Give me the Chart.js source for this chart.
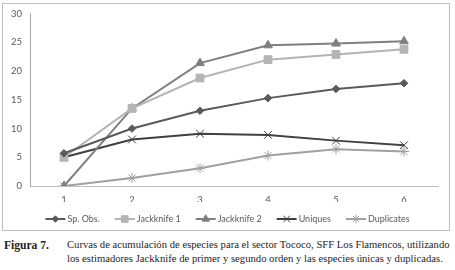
<!DOCTYPE html>
<html>
<head>
<meta charset="utf-8">
<script src="https://cdn.jsdelivr.net/npm/chart.js@4/dist/chart.umd.min.js"></script>
<style>
  html, body { margin: 0; padding: 0; background: #fff; }
  body { width: 455px; height: 270px; position: relative; overflow: hidden; }
  #frame { position: absolute; left: 2px; top: 3px; width: 448px; height: 228px; border: 1px solid #bfbfbf; box-sizing: border-box; }
  #wrap { position: absolute; left: 0; top: 0; width: 455px; height: 232px; }
  .cap { position: absolute; font-family: "Liberation Serif", "DejaVu Serif", serif; color: #1e1e1e; white-space: nowrap; }
  #fig { left: 4px; top: 239px; font-weight: bold; font-size: 12px; }
  #l1 { left: 67px; top: 239px; }
  #l2 { left: 67px; top: 253px; }
</style>
</head>
<body>
<div id="frame"></div>
<div id="wrap"><canvas id="c" width="455" height="232"></canvas></div>
<div class="cap" id="fig">Figura 7.</div>
<div class="cap" id="l1">Curvas de acumulación de especies para el sector Tococo, SFF Los Flamencos, utilizando</div>
<div class="cap" id="l2">los estimadores Jackknife de primer y segundo orden y las especies únicas y duplicadas.</div>
<script>
const categories = ['1', '2', '3', '4', '5', '6'];
const seriesNames = ['Sp. Obs.', 'Jackknife 1', 'Jackknife 2', 'Uniques', 'Duplicates'];
const spObs = [5.7, 10.0, 13.1, 15.3, 16.9, 17.9];
const jackknife1 = [5.0, 13.5, 18.8, 22.0, 22.9, 23.8];
const jackknife2 = [0.0, 13.5, 21.4, 24.5, 24.8, 25.2];
const uniques = [5.0, 8.1, 9.1, 8.9, 7.9, 7.1];
const duplicates = [0.0, 1.4, 3.1, 5.3, 6.4, 6.0];
const yTicks = [0, 5, 10, 15, 20, 25, 30];

const FAMILY = 'Lato, "Open Sans", sans-serif';
const meas = document.createElement('canvas').getContext('2d');
function fitSize(text, target, weight) {
  meas.font = (weight ? weight + ' ' : '') + '10px ' + FAMILY;
  return 10 * target / meas.measureText(text).width;
}
const tickSize = fitSize('30', 11);
const legendSize = fitSize('Jackknife 1', 44);

// fit caption sizes
(function(){
  meas.font = '10px "Liberation Serif"';
  const w = meas.measureText(document.getElementById('l1').textContent).width;
  const fs = 10 * 383 / w;
  document.getElementById('l1').style.fontSize = fs + 'px';
  document.getElementById('l2').style.fontSize = fs + 'px';
  meas.font = 'bold 10px "Liberation Serif"';
  const w2 = meas.measureText('Figura 7.').width;
  document.getElementById('fig').style.fontSize = (10 * 45 / w2) + 'px';
})();

const styles = [
  {color: '#5a5a5a', point: 'rectRot', r: 3.8},
  {color: '#b4b4b4', point: 'rect', r: 5.5},
  {color: '#7f7f7f', point: 'triangle', r: 5},
  {color: '#404040', point: 'crossRot', r: 5.5},
  {color: '#a0a0a0', point: 'star', r: 5}
];
const values = [spObs, jackknife1, jackknife2, uniques, duplicates];

const datasets = seriesNames.map((n, i) => ({
  label: n,
  data: values[i],
  borderColor: styles[i].color,
  backgroundColor: styles[i].color,
  borderWidth: 2,
  pointStyle: styles[i].point,
  pointRadius: styles[i].r,
  pointBorderWidth: 1,
  pointBackgroundColor: styles[i].color,
  pointBorderColor: styles[i].color,
  tension: 0
}));

// legend drawn on the canvas: line + marker, then the label
const lineLegend = {
  id: 'lineLegend',
  afterDraw(chart) {
    const ctx = chart.ctx;
    const ds = chart.data.datasets;
    const lineW = 20, gapText = 2, gapItem = 15, cy = 219;
    ctx.save();
    ctx.font = legendSize + 'px ' + FAMILY;
    const widths = ds.map(d => ctx.measureText(d.label).width);
    const total = widths.reduce((a, w) => a + lineW + gapText + w, 0) + gapItem * (ds.length - 1);
    let x = (chart.width) / 2 - total / 2;
    ds.forEach((d, i) => {
      const st = styles[i];
      ctx.strokeStyle = st.color; ctx.lineWidth = 2;
      ctx.beginPath(); ctx.moveTo(x, cy); ctx.lineTo(x + lineW, cy); ctx.stroke();
      ctx.fillStyle = st.color; ctx.strokeStyle = st.color; ctx.lineWidth = 1;
      Chart.helpers.drawPoint(ctx, {pointStyle: st.point, radius: st.r * 0.85, borderWidth: 1, rotation: 0}, x + lineW / 2, cy);
      ctx.fillStyle = '#595959';
      ctx.textBaseline = 'middle';
      ctx.textAlign = 'left';
      ctx.fillText(d.label, x + lineW + gapText, cy);
      x += lineW + gapText + widths[i] + gapItem;
    });
    ctx.restore();
  }
};

new Chart(document.getElementById('c'), {
  type: 'line',
  data: { labels: categories, datasets },
  plugins: [lineLegend],
  options: {
    responsive: false,
    animation: false,
    layout: { padding: { top: 12, right: 17, left: 0, bottom: 30 } },
    plugins: {
      tooltip: { enabled: false },
      legend: { display: false }
    },
    scales: {
      x: {
        offset: true,
        grid: { display: false, drawTicks: false, offset: true },
        border: { display: true, color: '#bfbfbf', width: 1 },
        ticks: { color: '#595959', padding: 8, font: { family: FAMILY, size: tickSize } },
        afterFit: (s) => { s.height = 16; }
      },
      y: {
        min: 0, max: 30,
        afterBuildTicks: (s) => { s.ticks = yTicks.map(v => ({value: v})); },
        grid: { display: false, drawTicks: false },
        border: { display: true, color: '#a6a6a6', width: 1 },
        ticks: { color: '#595959', padding: 8, font: { family: FAMILY, size: tickSize } },
        afterFit: (s) => { s.width = 30; }
      }
    }
  }
});
</script>
</body>
</html>
